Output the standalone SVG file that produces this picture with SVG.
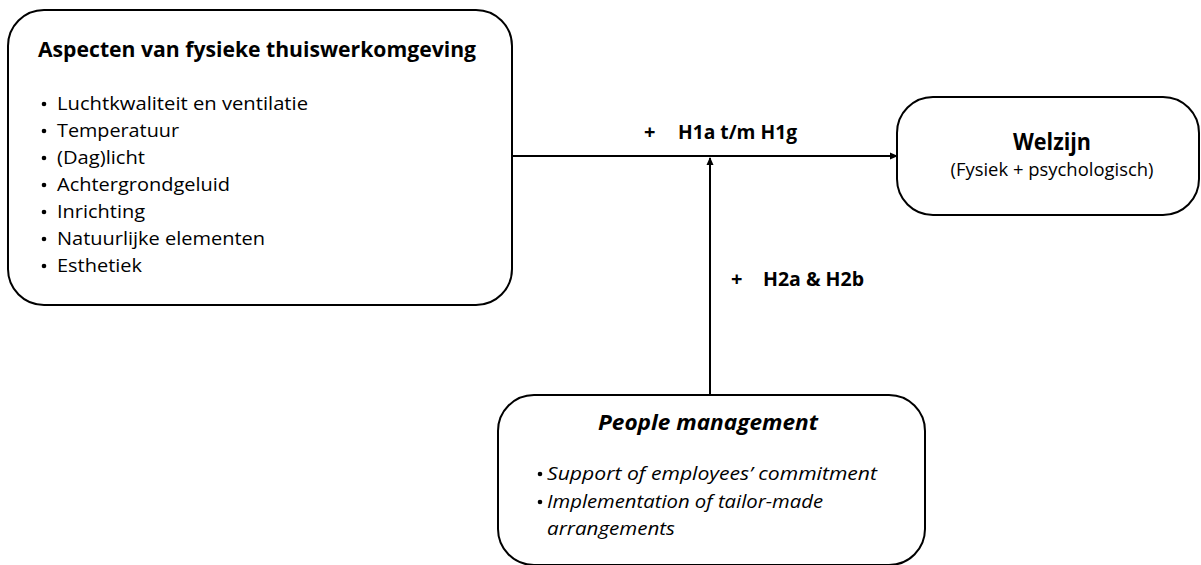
<svg xmlns="http://www.w3.org/2000/svg" width="1201" height="565" viewBox="0 0 1201 565">
<style>
.box{fill:#fff;stroke:#000;stroke-width:2}
.t{font-family:"Open Sans","Liberation Sans",sans-serif;fill:#000}
.b{font-weight:bold}
.i{font-style:italic}
.line{stroke:#000;stroke-width:2;fill:none}
</style>
<defs>
<marker id="arr" markerWidth="8" markerHeight="8" refX="7" refY="4" orient="auto" markerUnits="userSpaceOnUse">
<path d="M0,0.5 L8,4 L0,7.5 Z" fill="#000"/>
</marker>
</defs>
<rect width="1201" height="565" fill="#fff"/>
<g id="connectors">
<line class="line" x1="512" y1="156" x2="897" y2="156" marker-end="url(#arr)"/>
<line class="line" x1="710" y1="394" x2="710" y2="158" marker-end="url(#arr)"/>
<text class="t b" x="644" y="139" font-size="20">+</text>
<text class="t b" x="678" y="139" font-size="19" textLength="119" lengthAdjust="spacingAndGlyphs">H1a t/m H1g</text>
<text class="t b" x="731" y="286" font-size="20">+</text>
<text class="t b" x="763" y="286" font-size="19" textLength="101" lengthAdjust="spacingAndGlyphs">H2a &amp; H2b</text>
</g>
<g id="node-aspecten">
<rect class="box" x="8" y="10" width="504" height="295" rx="36" ry="36"/>
<text class="t b" x="38" y="57" font-size="21.5" textLength="438" lengthAdjust="spacingAndGlyphs">Aspecten van fysieke thuiswerkomgeving</text>
<g class="t" font-size="18.5">
<circle cx="44" cy="104" r="2.3"/><text x="57" y="110" textLength="251" lengthAdjust="spacingAndGlyphs">Luchtkwaliteit en ventilatie</text>
<circle cx="44" cy="131" r="2.3"/><text x="57" y="137" textLength="122" lengthAdjust="spacingAndGlyphs">Temperatuur</text>
<circle cx="44" cy="158" r="2.3"/><text x="57" y="164" textLength="88" lengthAdjust="spacingAndGlyphs">(Dag)licht</text>
<circle cx="44" cy="185" r="2.3"/><text x="57" y="191" textLength="173" lengthAdjust="spacingAndGlyphs">Achtergrondgeluid</text>
<circle cx="44" cy="212" r="2.3"/><text x="57" y="218" textLength="88" lengthAdjust="spacingAndGlyphs">Inrichting</text>
<circle cx="44" cy="239" r="2.3"/><text x="57" y="245" textLength="208" lengthAdjust="spacingAndGlyphs">Natuurlijke elementen</text>
<circle cx="44" cy="266" r="2.3"/><text x="57" y="272" textLength="85" lengthAdjust="spacingAndGlyphs">Esthetiek</text>
</g>
</g>
<g id="node-welzijn">
<rect class="box" x="897" y="97" width="302" height="118" rx="36" ry="36"/>
<text class="t b" x="1052" y="150" font-size="24" text-anchor="middle" textLength="78" lengthAdjust="spacingAndGlyphs">Welzijn</text>
<text class="t" x="1052" y="176" font-size="17.5" text-anchor="middle" textLength="203" lengthAdjust="spacingAndGlyphs">(Fysiek + psychologisch)</text>
</g>
<g id="node-people">
<rect class="box" x="498" y="395" width="427" height="170" rx="36" ry="36"/>
<text class="t b i" x="708" y="430" font-size="21.5" text-anchor="middle" textLength="220" lengthAdjust="spacingAndGlyphs">People management</text>
<g class="t i" font-size="18.5">
<circle cx="540" cy="474" r="2.3"/><text x="547" y="480" textLength="330" lengthAdjust="spacingAndGlyphs">Support of employees’ commitment</text>
<circle cx="540" cy="502" r="2.3"/><text x="547" y="508" textLength="276" lengthAdjust="spacingAndGlyphs">Implementation of tailor-made</text>
<text x="547" y="535" textLength="128" lengthAdjust="spacingAndGlyphs">arrangements</text>
</g>
</g>
</svg>
